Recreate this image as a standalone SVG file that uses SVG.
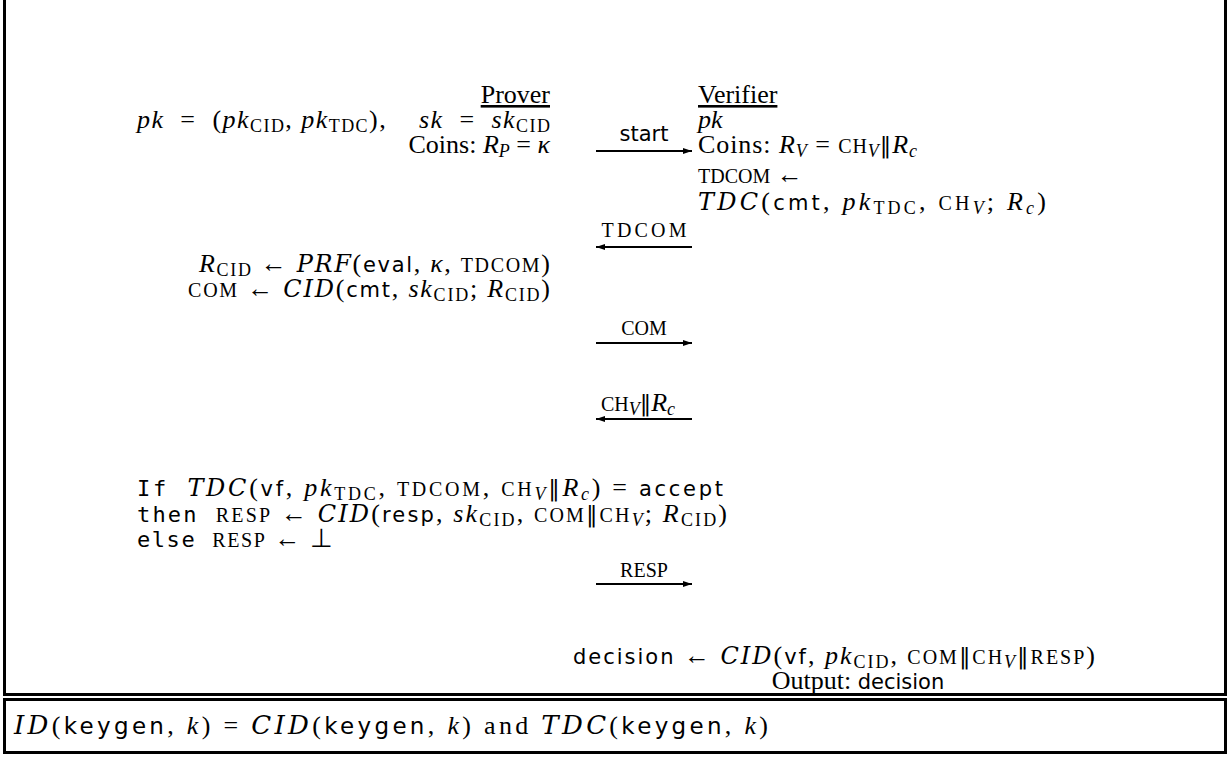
<svg xmlns="http://www.w3.org/2000/svg" width="1232" height="758" viewBox="0 0 1232 758">
<style>
text{font-family:"Liberation Serif",serif;font-size:26px;fill:#000;white-space:pre}
.i{font-style:italic}
.s{font-size:18px}
.sc{font-size:20px}
.p{font-family:"DejaVu Serif",serif;font-size:23px}
.sf{font-family:"DejaVu Sans",sans-serif;font-size:21px}
.sf2{font-family:"DejaVu Sans",sans-serif;font-size:23px}
.tt{font-family:"DejaVu Sans Mono",monospace;font-size:22px}
.cal{font-style:italic;font-family:"DejaVu Serif",serif;font-size:24px}
.cal2{font-style:italic;font-family:"DejaVu Serif",serif;font-size:26px}
.u{text-decoration:underline}
.frame{fill:none;stroke:#000;stroke-width:3}
.msg{stroke:#000;stroke-width:2;fill:none}
</style>
<defs>
<marker id="ah" markerWidth="10" markerHeight="8" refX="9" refY="4" orient="auto" markerUnits="userSpaceOnUse">
<path d="M0,1 L9,4 L0,7 Z" fill="#000"/>
</marker>
</defs>
<rect class="frame" x="4.5" y="-10" width="1221" height="704.5"/>
<rect class="frame" x="4.5" y="699.5" width="1221" height="53"/>

<g id="prover">
<text x="550" y="103" text-anchor="end" class="u">Prover</text>
<text x="550" y="128" text-anchor="end" textLength="413" lengthAdjust="spacing"><tspan class="i">pk</tspan>  =  (<tspan class="i">pk</tspan><tspan class="s" dy="4">CID</tspan><tspan dy="-4">, </tspan><tspan class="i">pk</tspan><tspan class="s" dy="4">TDC</tspan><tspan dy="-4">),    </tspan><tspan class="i">sk</tspan>  =  <tspan class="i">sk</tspan><tspan class="s" dy="4">CID</tspan></text>
<text x="550" y="153" text-anchor="end">Coins: <tspan class="i">R</tspan><tspan class="s i" dy="4">P</tspan><tspan dy="-4"> = </tspan><tspan class="i">κ</tspan></text>
</g>

<g id="verifier">
<text x="698" y="103" class="u">Verifier</text>
<text x="698" y="128" class="i">pk</text>
<text x="698" y="153" textLength="219" lengthAdjust="spacing">Coins: <tspan class="i">R</tspan><tspan class="s i" dy="4">V</tspan><tspan dy="-4"> = </tspan><tspan class="sc">CH</tspan><tspan class="s i" dy="4">V</tspan><tspan class="p" dy="-4">‖</tspan><tspan class="i">R</tspan><tspan class="s i" dy="4">c</tspan></text>
</g>

<g id="verifier-tdcom">
<text x="698" y="183"><tspan class="sc">TDCOM</tspan> ←</text>
<text x="698" y="210" textLength="348" lengthAdjust="spacing"><tspan class="cal">TDC</tspan>(<tspan class="sf">cmt</tspan>, <tspan class="i">pk</tspan><tspan class="s" dy="4">TDC</tspan><tspan dy="-4">, </tspan><tspan class="sc">CH</tspan><tspan class="s i" dy="4">V</tspan><tspan dy="-4">; </tspan><tspan class="i">R</tspan><tspan class="s i" dy="4">c</tspan><tspan dy="-4">)</tspan></text>
</g>

<g id="prover-com">
<text x="550" y="272" text-anchor="end" textLength="351" lengthAdjust="spacing"><tspan class="i">R</tspan><tspan class="s" dy="4">CID</tspan><tspan dy="-4"> ← </tspan><tspan class="cal">PRF</tspan>(<tspan class="sf">eval</tspan>, <tspan class="i">κ</tspan>, <tspan class="sc">TDCOM</tspan>)</text>
<text x="550" y="297" text-anchor="end" textLength="362" lengthAdjust="spacing"><tspan class="sc">COM</tspan> ← <tspan class="cal">CID</tspan>(<tspan class="sf">cmt</tspan>, <tspan class="i">sk</tspan><tspan class="s" dy="4">CID</tspan><tspan dy="-4">; </tspan><tspan class="i">R</tspan><tspan class="s" dy="4">CID</tspan><tspan dy="-4">)</tspan></text>
</g>

<g id="prover-resp">
<text x="137" y="496" textLength="586" lengthAdjust="spacing"><tspan class="tt">If</tspan>  <tspan class="cal">TDC</tspan>(<tspan class="sf">vf</tspan>, <tspan class="i">pk</tspan><tspan class="s" dy="4">TDC</tspan><tspan dy="-4">, </tspan><tspan class="sc">TDCOM</tspan>, <tspan class="sc">CH</tspan><tspan class="s i" dy="4">V</tspan><tspan class="p" dy="-4">‖</tspan><tspan class="i">R</tspan><tspan class="s i" dy="4">c</tspan><tspan dy="-4">) = </tspan><tspan class="sf">accept</tspan></text>
<text x="137" y="522" textLength="590" lengthAdjust="spacing"><tspan class="tt">then</tspan>  <tspan class="sc">RESP</tspan> ← <tspan class="cal">CID</tspan>(<tspan class="sf">resp</tspan>, <tspan class="i">sk</tspan><tspan class="s" dy="4">CID</tspan><tspan dy="-4">, </tspan><tspan class="sc">COM</tspan><tspan class="p">‖</tspan><tspan class="sc">CH</tspan><tspan class="s i" dy="4">V</tspan><tspan dy="-4">; </tspan><tspan class="i">R</tspan><tspan class="s" dy="4">CID</tspan><tspan dy="-4">)</tspan></text>
<text x="137" y="547" textLength="196" lengthAdjust="spacing"><tspan class="tt">else</tspan>  <tspan class="sc">RESP</tspan> ← ⊥</text>
</g>

<g id="verifier-decision">
<text x="834" y="664" text-anchor="middle" textLength="522" lengthAdjust="spacing"><tspan class="sf">decision</tspan> ← <tspan class="cal">CID</tspan>(<tspan class="sf">vf</tspan>, <tspan class="i">pk</tspan><tspan class="s" dy="4">CID</tspan><tspan dy="-4">, </tspan><tspan class="sc">COM</tspan><tspan class="p">‖</tspan><tspan class="sc">CH</tspan><tspan class="s i" dy="4">V</tspan><tspan class="p" dy="-4">‖</tspan><tspan class="sc">RESP</tspan>)</text>
<text x="858" y="689" text-anchor="middle">Output: <tspan class="sf">decision</tspan></text>
</g>

<g id="keygen">
<text x="14" y="734" textLength="754" lengthAdjust="spacing"><tspan class="cal2">ID</tspan>(<tspan class="sf2">keygen</tspan>, <tspan class="i">k</tspan>) = <tspan class="cal2">CID</tspan>(<tspan class="sf2">keygen</tspan>, <tspan class="i">k</tspan>) and <tspan class="cal2">TDC</tspan>(<tspan class="sf2">keygen</tspan>, <tspan class="i">k</tspan>)</text>
</g>

<g id="messages">
<text x="644" y="141" text-anchor="middle" class="sf">start</text>
<line class="msg" x1="596" y1="151" x2="692" y2="151" marker-end="url(#ah)"/>
<text x="644" y="237" text-anchor="middle" class="sc" textLength="85" lengthAdjust="spacing">TDCOM</text>
<line class="msg" x1="692" y1="247" x2="596" y2="247" marker-end="url(#ah)"/>
<text x="644" y="335" text-anchor="middle" class="sc">COM</text>
<line class="msg" x1="596" y1="343" x2="692" y2="343" marker-end="url(#ah)"/>
<text x="638" y="411" text-anchor="middle"><tspan class="sc">CH</tspan><tspan class="s i" dy="4">V</tspan><tspan class="p" dy="-4">‖</tspan><tspan class="i">R</tspan><tspan class="s i" dy="4">c</tspan></text>
<line class="msg" x1="692" y1="419" x2="596" y2="419" marker-end="url(#ah)"/>
<text x="644" y="577" text-anchor="middle" class="sc">RESP</text>
<line class="msg" x1="596" y1="584" x2="692" y2="584" marker-end="url(#ah)"/>
</g>
</svg>
